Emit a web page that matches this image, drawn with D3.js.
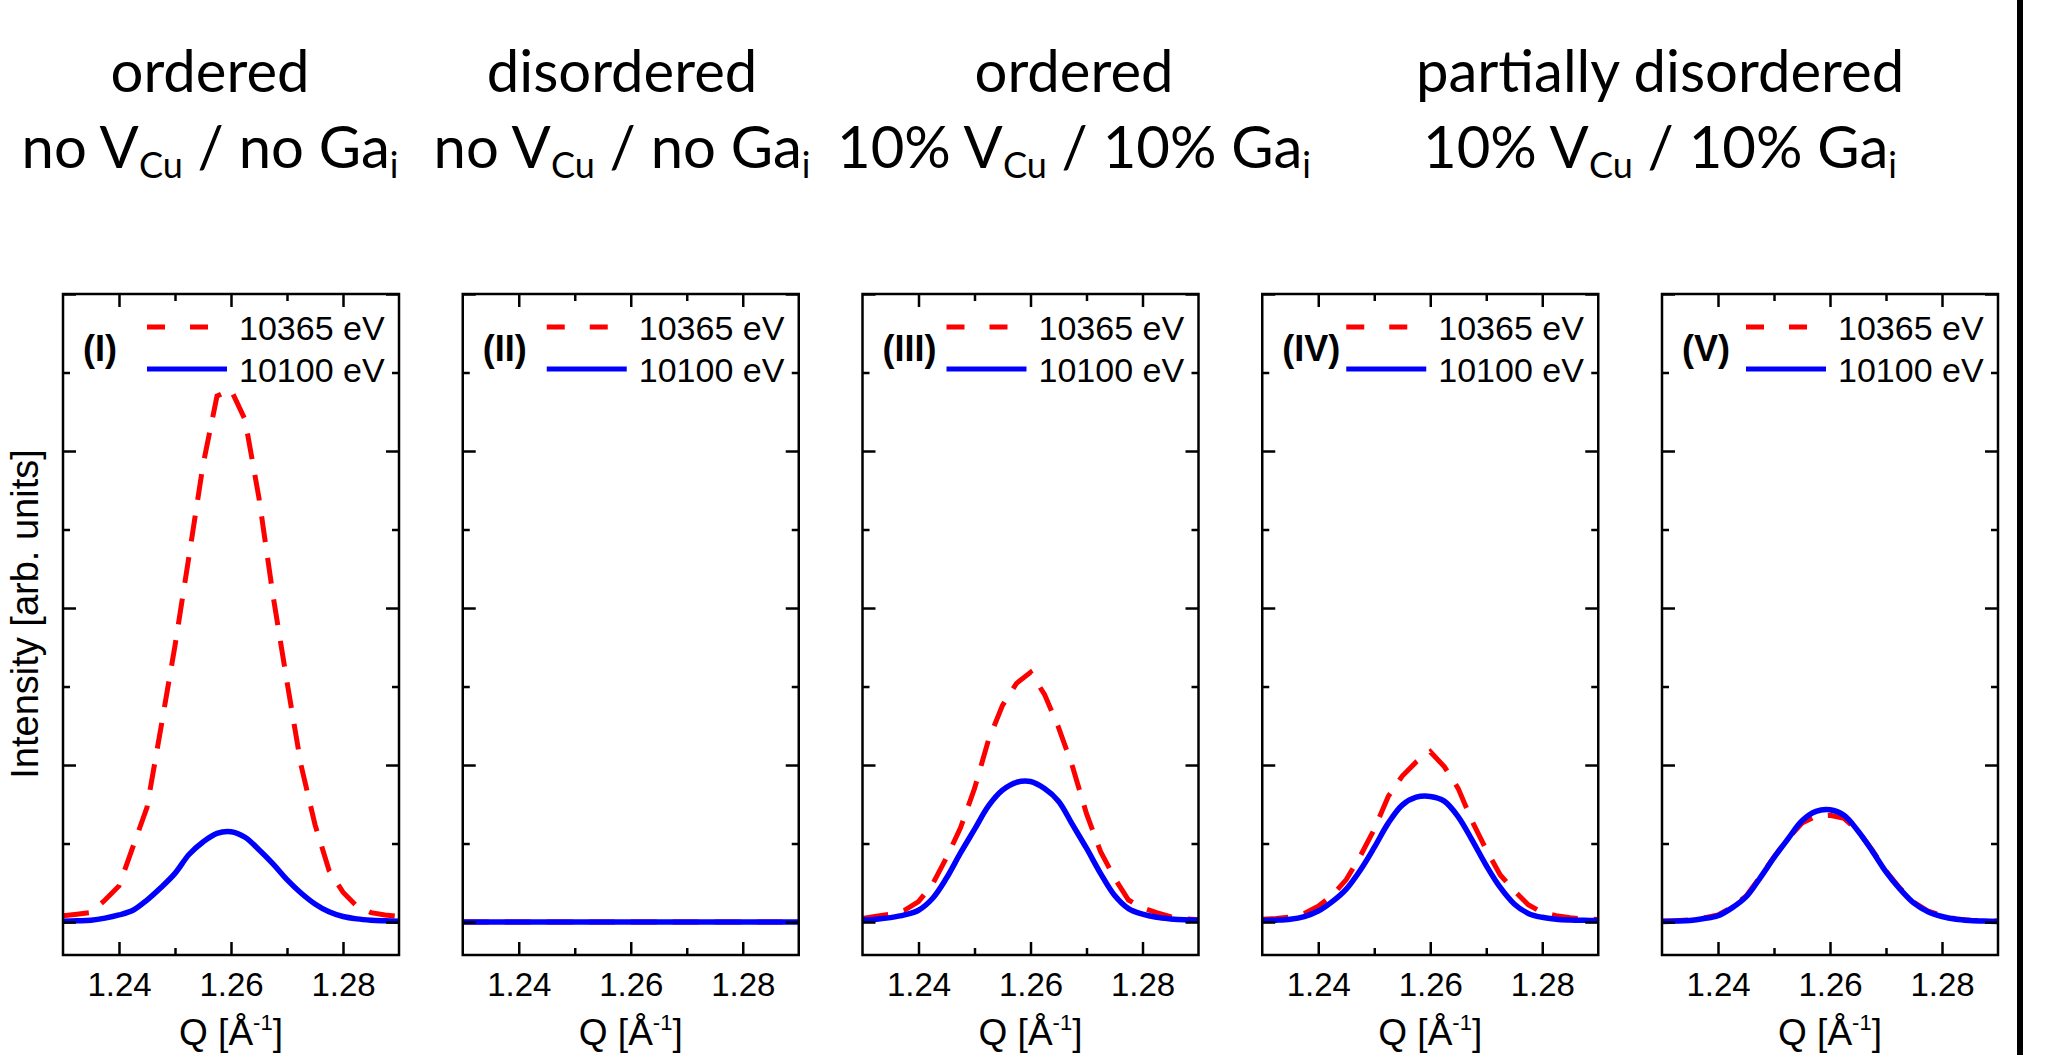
<!DOCTYPE html>
<html>
<head>
<meta charset="utf-8">
<script src="https://cdn.jsdelivr.net/npm/d3@7"></script>
<style>
body { margin: 0; background: #fff; }
svg text { font-family: "Liberation Sans", Arial, sans-serif; }
.title { font-family: Lato, "Open Sans", sans-serif !important; }
</style>
</head>
<body>
<script>
// Q values (1/Angstrom) shared by every curve
var qGrid = [1.23, 1.2325, 1.235, 1.2375, 1.24, 1.2425, 1.245, 1.2475, 1.25, 1.2525, 1.255, 1.2575,
             1.26, 1.2625, 1.265, 1.2675, 1.27, 1.2725, 1.275, 1.2775, 1.28, 1.2825, 1.285, 1.2875, 1.29];

// intensities, arb. units (one major tick = 1)
var red_I   = [0.04, 0.05, 0.06, 0.14, 0.23, 0.48, 0.73, 1.24, 1.76, 2.33, 2.91, 3.35,
               3.39, 3.20, 2.70, 2.08, 1.53, 1.00, 0.62, 0.33, 0.19, 0.10, 0.06, 0.045, 0.035];
var blue_I  = [0.005, 0.008, 0.012, 0.025, 0.045, 0.075, 0.14, 0.22, 0.31, 0.43, 0.51, 0.565,
               0.575, 0.54, 0.46, 0.37, 0.27, 0.185, 0.115, 0.065, 0.035, 0.02, 0.012, 0.008, 0.005];

var red_II  = [0, 0, 0, 0, 0, 0, 0, 0, 0, 0, 0, 0, 0, 0, 0, 0, 0, 0, 0, 0, 0, 0, 0, 0, 0];
var blue_II = [0, 0, 0, 0, 0, 0, 0, 0, 0, 0, 0, 0, 0, 0, 0, 0, 0, 0, 0, 0, 0, 0, 0, 0, 0];

var red_III  = [0.022, 0.037, 0.05, 0.075, 0.13, 0.24, 0.41, 0.60, 0.85, 1.16, 1.38, 1.52,
                1.59, 1.45, 1.24, 0.99, 0.69, 0.45, 0.28, 0.14, 0.09, 0.06, 0.034, 0.02, 0.015];
var blue_III = [0.013, 0.018, 0.028, 0.045, 0.075, 0.15, 0.28, 0.44, 0.59, 0.74, 0.84, 0.89,
                0.895, 0.85, 0.77, 0.62, 0.47, 0.31, 0.17, 0.085, 0.05, 0.03, 0.02, 0.014, 0.012];

var red_IV  = [0.018, 0.023, 0.032, 0.055, 0.10, 0.17, 0.27, 0.42, 0.59, 0.80, 0.93, 1.02,
               1.085, 0.99, 0.85, 0.64, 0.46, 0.30, 0.20, 0.11, 0.06, 0.04, 0.027, 0.02, 0.016];
var blue_IV = [0.01, 0.012, 0.018, 0.035, 0.07, 0.13, 0.21, 0.33, 0.475, 0.63, 0.745, 0.795,
               0.80, 0.77, 0.67, 0.52, 0.36, 0.22, 0.115, 0.055, 0.03, 0.018, 0.013, 0.011, 0.01];

var red_V  = [0.006, 0.008, 0.013, 0.026, 0.045, 0.095, 0.165, 0.285, 0.415, 0.53, 0.63, 0.675,
              0.68, 0.66, 0.58, 0.46, 0.325, 0.215, 0.125, 0.07, 0.04, 0.02, 0.012, 0.008, 0.006];
var blue_V = [0.004, 0.006, 0.01, 0.022, 0.04, 0.09, 0.16, 0.28, 0.41, 0.53, 0.645, 0.705,
              0.715, 0.68, 0.58, 0.455, 0.32, 0.21, 0.12, 0.065, 0.035, 0.018, 0.01, 0.006, 0.004];

var panelLabels = ["(I)", "(II)", "(III)", "(IV)", "(V)"];
var redSeries  = [red_I, red_II, red_III, red_IV, red_V];
var blueSeries = [blue_I, blue_II, blue_III, blue_IV, blue_V];
var legendLabels = ["10365 eV", "10100 eV"];

var xMajor = [1.24, 1.26, 1.28];
var xMinor = [1.25, 1.27];
var yMajor = [0, 1, 2, 3, 4];
var yMinor = [0.5, 1.5, 2.5, 3.5];

// column headings, second line = [text, subscript, text, subscript]
var headTop = ["ordered", "disordered", "ordered", "partially disordered"];
var headBottom = [["no V", "Cu", " / no Ga", "i"],
                  ["no V", "Cu", " / no Ga", "i"],
                  ["10% V", "Cu", " / 10% Ga", "i"],
                  ["10% V", "Cu", " / 10% Ga", "i"]];
var headX = [210, 622, 1074, 1660];

var W = 2060, H = 1055;
var svg = d3.select("body").append("svg")
    .attr("width", W)
    .attr("height", H);

// headings
headTop.forEach(function(t, i) {
    svg.append("text").attr("class", "title")
        .attr("x", headX[i]).attr("y", 92)
        .attr("text-anchor", "middle")
        .attr("font-size", 58)
        .text(t);
    var p = headBottom[i];
    var tx = svg.append("text").attr("class", "title")
        .attr("x", headX[i]).attr("y", 168)
        .attr("text-anchor", "middle")
        .attr("font-size", 58);
    tx.append("tspan").text(p[0]);
    tx.append("tspan").attr("font-size", 36).attr("dy", 10).text(p[1]);
    tx.append("tspan").attr("dy", -10).text(p[2]);
    tx.append("tspan").attr("font-size", 36).attr("dy", 10).text(p[3]);
});

// thick line at the right edge
svg.append("line")
    .attr("x1", 2020).attr("x2", 2020)
    .attr("y1", 0).attr("y2", H)
    .attr("stroke", "#000").attr("stroke-width", 6);

var pw = 336, pTop = 294, pBottom = 955;

var x = d3.scaleLinear().domain([1.23, 1.29]).range([0, pw]);
var y = d3.scaleLinear().domain([-0.21, 4]).range([pBottom, pTop]);

var lineGen = d3.line()
    .x(function(d) { return x(d[0]); })
    .y(function(d) { return y(d[1]); });

panelLabels.forEach(function(lab, i) {
    var left = 63 + i * 399.75;
    var g = svg.append("g").attr("transform", "translate(" + left + ",0)");

    g.append("clipPath").attr("id", "clip" + i)
        .append("rect").attr("x", 0).attr("y", pTop).attr("width", pw).attr("height", pBottom - pTop);

    var red = qGrid.map(function(q, k) { return [q, redSeries[i][k]]; });
    var blue = qGrid.map(function(q, k) { return [q, blueSeries[i][k]]; });

    var plot = g.append("g").attr("clip-path", "url(#clip" + i + ")");
    plot.append("path")
        .attr("d", lineGen.curve(d3.curveLinear)(red))
        .attr("fill", "none")
        .attr("stroke", "#ff0000")
        .attr("stroke-width", 5)
        .attr("stroke-dasharray", "26,16");
    plot.append("path")
        .attr("d", lineGen.curve(d3.curveCatmullRom)(blue))
        .attr("fill", "none")
        .attr("stroke", "#0000ff")
        .attr("stroke-width", 5.5);

    // ticks, all pointing inward
    var ax = [
        [d3.axisBottom(x).tickValues(xMajor).tickSize(-13).tickPadding(18).tickFormat(d3.format(".2f")), "translate(0," + pBottom + ")"],
        [d3.axisBottom(x).tickValues(xMinor).tickSize(-7).tickFormat(""), "translate(0," + pBottom + ")"],
        [d3.axisTop(x).tickValues(xMajor).tickSize(-13).tickFormat(""), "translate(0," + pTop + ")"],
        [d3.axisTop(x).tickValues(xMinor).tickSize(-7).tickFormat(""), "translate(0," + pTop + ")"],
        [d3.axisLeft(y).tickValues(yMajor).tickSize(-13).tickFormat(""), "translate(0,0)"],
        [d3.axisLeft(y).tickValues(yMinor).tickSize(-7).tickFormat(""), "translate(0,0)"],
        [d3.axisRight(y).tickValues(yMajor).tickSize(-13).tickFormat(""), "translate(" + pw + ",0)"],
        [d3.axisRight(y).tickValues(yMinor).tickSize(-7).tickFormat(""), "translate(" + pw + ",0)"]
    ];
    ax.forEach(function(a) {
        var ag = g.append("g").attr("transform", a[1]).call(a[0]);
        ag.select(".domain").remove();
        ag.selectAll("line").attr("stroke", "#000").attr("stroke-width", 2.5);
        ag.selectAll("text").attr("font-size", 33).attr("fill", "#000")
            .attr("font-family", "Liberation Sans, Arial, sans-serif");
    });

    g.append("rect")
        .attr("x", 0).attr("y", pTop).attr("width", pw).attr("height", pBottom - pTop)
        .attr("fill", "none").attr("stroke", "#000").attr("stroke-width", 2.5);

    // legend
    g.append("text")
        .attr("x", 20).attr("y", 361)
        .attr("font-size", 36).attr("font-weight", "bold")
        .text(lab);
    g.append("line")
        .attr("x1", 84).attr("x2", 145).attr("y1", 327).attr("y2", 327)
        .attr("stroke", "#ff0000").attr("stroke-width", 5).attr("stroke-dasharray", "18,25");
    g.append("line")
        .attr("x1", 84).attr("x2", 164).attr("y1", 369).attr("y2", 369)
        .attr("stroke", "#0000ff").attr("stroke-width", 5);
    legendLabels.forEach(function(t, k) {
        g.append("text")
            .attr("x", 176).attr("y", 340 + k * 42)
            .attr("font-size", 34)
            .text(t);
    });

    // x axis title
    var xt = g.append("text")
        .attr("x", pw / 2).attr("y", 1045)
        .attr("text-anchor", "middle")
        .attr("font-size", 37);
    xt.append("tspan").text("Q [Å");
    xt.append("tspan").attr("font-size", 22).attr("dy", -15).text("-1");
    xt.append("tspan").attr("dy", 15).text("]");

    if (i === 0) {
        svg.append("text")
            .attr("transform", "translate(38,614) rotate(-90)")
            .attr("text-anchor", "middle")
            .attr("font-size", 38)
            .text("Intensity [arb. units]");
    }
});
</script>
</body>
</html>
